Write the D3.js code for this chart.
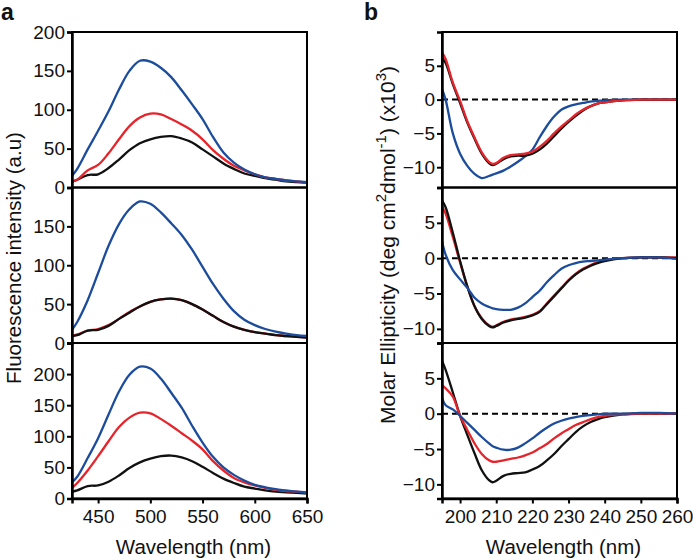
<!DOCTYPE html>
<html><head><meta charset="utf-8">
<script src="https://cdn.jsdelivr.net/npm/d3@7/dist/d3.min.js"></script>
<style>body{margin:0;background:#fff}svg{display:block}text{font-family:"Liberation Sans",Arial,Helvetica,sans-serif;fill:#111}</style>
</head><body><svg id="c" width="693" height="560"></svg>
<script>
// ---- data ----
const flWave = [425,430,440,450,460,470,480,490,500,510,520,530,540,550,560,570,580,590,600,610,620,630,640,650];
const flTopBlue  = [15,24,49,73,98,126,150,163,162,154,142,125,107,88,65,45,32,23,17,13,11,9,8,7];
const flTopRed   = [8,10,22,29,44,62,79,90,95,94,88,81,73,62,48,37,28,22,17,13,11,9,8,6];
const flTopBlack = [7,10,16,17,25,36,48,57,62,65,66,63,58,49,40,31,24,18,15,12,10,8,7,6];
const flMidBlue  = [17,27,55,90,125,153,172,182,179,168,154,139,120,98,76,57,41,30,23,18,14.5,12,10,9];
const flMidRed   = [9,11,16,18,23,31,40,47,53,56,57,55,50,43,35,27,21,17,14,12,10,9,8,7];
const flMidBlack = [9,10,16,17,22,31,39,47,53,56,57,55,50,43,35,27,21,17,14,12,10,9,8,7];
const flBotBlue  = [26,35,65,97,135,172,199,212,209,193,170,146,117,90,67,50,38,29,22,18,15,13,11,10];
const flBotRed   = [17,25,45,68,92,115,130,138,137,128,117,105,93,79,60,45,33,26,21,17,14,12,11,9];
const flBotBlack = [11,13,20,21,27,37,49,58,64,68,69,66,60,51,41,32,25,19,16,13,11,10,9,8];

const cdWave = [195,196,198,200,202,204,206,208,209,210,212,214,216,218,220,222,224,226,228,230,232,234,236,238,240,245,250,255,260];
const cdTopRed   = [7.0,6.0,2.5,-0.2,-3.2,-5.6,-7.8,-9.2,-9.5,-9.4,-8.6,-8.2,-8.1,-8.0,-7.7,-7.0,-6.1,-5.0,-4.0,-3.1,-2.2,-1.5,-1.0,-0.6,-0.4,-0.1,0,0,0];
const cdTopBlack = [6.2,5.4,2.3,-0.5,-3.4,-5.8,-8.0,-9.4,-9.7,-9.5,-8.8,-8.4,-8.3,-8.3,-8.0,-7.4,-6.5,-5.4,-4.3,-3.3,-2.4,-1.6,-1.0,-0.6,-0.4,-0.1,0,0,0];
const cdTopBlue  = [1.6,0,-5.0,-8.0,-9.8,-11.0,-11.6,-11.3,-11.1,-10.9,-10.5,-9.9,-9.2,-8.4,-7.4,-5.6,-3.9,-2.5,-1.5,-1.0,-0.7,-0.5,-0.3,-0.2,-0.1,0,0,0,0];
const cdMidBlack = [8.2,7.2,3.6,-0.4,-4.0,-6.8,-8.6,-9.6,-9.8,-9.6,-9.1,-8.8,-8.6,-8.4,-8.1,-7.6,-6.5,-5.4,-4.3,-3.2,-2.3,-1.6,-1.1,-0.7,-0.4,0,0.1,0.1,0];
const cdMidRed   = [7.3,6.3,3.0,-0.6,-4.0,-6.8,-8.5,-9.5,-9.7,-9.5,-9.0,-8.7,-8.5,-8.3,-8.0,-7.5,-6.4,-5.3,-4.2,-3.1,-2.2,-1.5,-1.0,-0.6,-0.3,0,0.1,0.1,0.1];
const cdMidBlue  = [2.4,0.5,-1.7,-3.0,-4.2,-5.6,-6.4,-6.9,-7.1,-7.2,-7.3,-7.3,-7.0,-6.4,-5.5,-4.6,-3.4,-2.4,-1.5,-1.0,-0.7,-0.5,-0.4,-0.3,-0.2,0,0.1,0.1,-0.1];
const cdBotBlack = [7.5,6.2,3.0,-0.3,-3.0,-5.6,-8.0,-9.4,-9.7,-9.5,-8.8,-8.5,-8.4,-8.3,-7.9,-7.4,-6.6,-5.7,-4.6,-3.6,-2.6,-1.8,-1.2,-0.8,-0.5,-0.1,0,0,0];
const cdBotRed   = [4.0,3.6,2.4,-0.3,-2.3,-4.2,-5.7,-6.6,-6.8,-6.8,-6.6,-6.4,-6.2,-5.9,-5.5,-4.9,-4.3,-3.5,-2.8,-2.2,-1.6,-1.2,-0.8,-0.5,-0.3,-0.1,0,0,0];
const cdBotBlue  = [2.2,1.2,0.6,-0.3,-1.3,-2.3,-3.3,-4.2,-4.6,-4.8,-5.1,-5.1,-4.8,-4.2,-3.5,-2.7,-2.0,-1.4,-1.0,-0.7,-0.5,-0.3,-0.2,-0.1,0,0,0.1,0.1,0];

const flXTicks = [450,500,550,600,650];
const cdXTicks = [200,210,220,230,240,250,260];
const flYTicks = [[0,50,100,150,200],[0,50,100,150],[0,50,100,150,200]];
const cdYTicks = [[-10,-5,0,5],[-10,-5,0,5],[-10,-5,0,5]];
const flYDomains = [[0,200],[0,200],[0,250]];
const cdYDomains = [[-13,10],[-12,10],[-12,10]];

const COL = {blue:"#1c4c9c", red:"#e5242b", black:"#111"};

// ---- layout ----
const svg = d3.select("#c");
const top0 = 32, panelH = 155.5;
const cols = [
  {x0:72, x1:307, domain:[425,650], wave:flWave, xTicks:flXTicks, yTicks:flYTicks, yDom:flYDomains, zero:false,
   series:[
     [["black",flTopBlack],["red",flTopRed],["blue",flTopBlue]],
     [["red",flMidRed],["black",flMidBlack],["blue",flMidBlue]],
     [["black",flBotBlack],["red",flBotRed],["blue",flBotBlue]]]},
  {x0:442, x1:677, domain:[195,260], wave:cdWave, xTicks:cdXTicks, yTicks:cdYTicks, yDom:cdYDomains, zero:true,
   series:[
     [["blue",cdTopBlue],["black",cdTopBlack],["red",cdTopRed]],
     [["red",cdMidRed],["black",cdMidBlack],["blue",cdMidBlue]],
     [["black",cdBotBlack],["red",cdBotRed],["blue",cdBotBlue]]]}
];

cols.forEach(c => {
  const x = d3.scaleLinear().domain(c.domain).range([c.x0, c.x1]);
  for (let i = 0; i < 3; i++) {
    const ptop = top0 + i*panelH, pbot = ptop + panelH;
    const y = d3.scaleLinear().domain(c.yDom[i]).range([pbot, ptop]);
    const g = svg.append("g");
    if (c.zero) {
      g.append("line").attr("x1", c.x0).attr("x2", c.x1).attr("y1", y(0)).attr("y2", y(0))
        .attr("stroke", "#000").attr("stroke-width", 2).attr("stroke-dasharray", "6,4");
    }
    const line = d3.line().x((d,j) => x(c.wave[j])).y(d => y(d)).curve(d3.curveCatmullRom.alpha(0.5));
    c.series[i].forEach(([col, vals]) => {
      g.append("path").attr("d", line(vals)).attr("fill", "none")
        .attr("stroke", COL[col]).attr("stroke-width", 2.3).attr("stroke-linejoin", "round");
    });
    // frame
    g.append("rect").attr("x", c.x0).attr("y", ptop).attr("width", c.x1 - c.x0).attr("height", panelH)
      .attr("fill", "none").attr("stroke", "#000").attr("stroke-width", 2);
    // y axis
    const ya = g.append("g").attr("transform", `translate(${c.x0},0)`)
      .call(d3.axisLeft(y).tickValues(c.yTicks[i]).tickSize(5).tickPadding(2).tickFormat(d3.format("d")));
    ya.select(".domain").attr("stroke-width", 2.5);
    ya.selectAll(".tick line").attr("stroke-width", 2);
    ya.selectAll("text").attr("font-size", 19).attr("fill", "#111");
    if (i === 2) {
      const xa = g.append("g").attr("transform", `translate(0,${pbot})`)
        .call(d3.axisBottom(x).tickValues(c.xTicks).tickSize(5).tickPadding(6).tickFormat(d3.format("d")));
      xa.select(".domain").attr("stroke-width", 2.5);
      xa.selectAll(".tick line").attr("stroke-width", 2);
      xa.selectAll("text").attr("font-size", 19).attr("fill", "#111");
    }
  }
  svg.append("text").attr("x", (c.x0 + c.x1)/2 + 4).attr("y", 554).attr("text-anchor", "middle")
    .attr("font-size", 20.5).text("Wavelength (nm)");
});

// y labels
svg.append("text").attr("transform", "translate(21,258) rotate(-90)").attr("text-anchor", "middle")
  .attr("font-size", 20.5).text("Fluorescence intensity (a.u)");

const rl = svg.append("text").attr("transform", "translate(395,245) rotate(-90)").attr("text-anchor", "middle")
  .attr("font-size", 21);
rl.append("tspan").text("Molar Ellipticity (deg cm");
rl.append("tspan").attr("dy", -9).attr("font-size", 15).text("2");
rl.append("tspan").attr("dy", 9).text("dmol");
rl.append("tspan").attr("dy", -9).attr("font-size", 15).text("-1");
rl.append("tspan").attr("dy", 9).text(") (x10");
rl.append("tspan").attr("dy", -9).attr("font-size", 15).text("3");
rl.append("tspan").attr("dy", 9).text(")");

// panel letters
svg.append("text").attr("x", 1).attr("y", 20).attr("font-size", 23).attr("font-weight", "bold").text("a");
svg.append("text").attr("x", 364).attr("y", 20).attr("font-size", 23).attr("font-weight", "bold").text("b");
</script></body></html>
